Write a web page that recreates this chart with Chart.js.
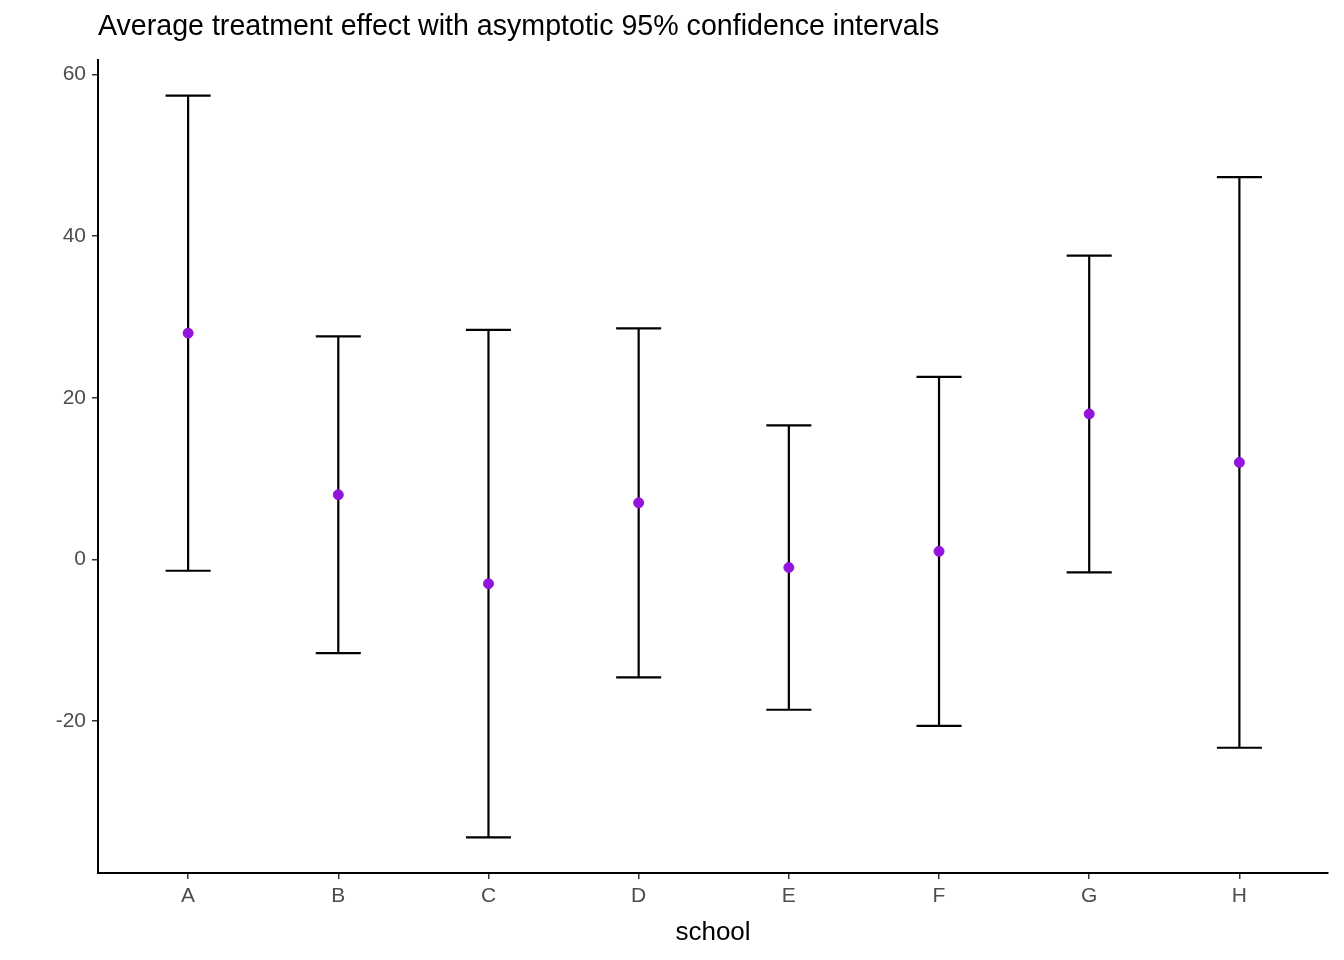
<!DOCTYPE html>
<html>
<head>
<meta charset="utf-8">
<script src="https://cdn.jsdelivr.net/npm/chart.js@4"></script>
<style>
  body { margin: 0; background: #fff; }
  #wrap { width: 1344px; height: 960px; }
</style>
</head>
<body>
<div id="wrap"><canvas id="c" width="1344" height="960"></canvas></div>
<script>
var schools = ['A', 'B', 'C', 'D', 'E', 'F', 'G', 'H'];
var estimates = [28, 8, -3, 7, -1, 1, 18, 12];
var lowerCI = [-1.4, -11.6, -34.4, -14.6, -18.6, -20.6, -1.6, -23.3];
var upperCI = [57.4, 27.6, 28.4, 28.6, 16.6, 22.6, 37.6, 47.3];
var yTicks = [-20, 0, 20, 40, 60];

var points = estimates.map(function(v, i) { return { x: i, y: v }; });

// draws the whiskers behind the points
var errorBars = {
  id: 'errorBars',
  beforeDatasetsDraw: function(chart) {
    var ctx = chart.ctx;
    var xs = chart.scales.x;
    var ys = chart.scales.y;
    ctx.save();
    ctx.strokeStyle = '#000';
    ctx.lineWidth = 2.2;
    schools.forEach(function(s, i) {
      var x = xs.getPixelForValue(i);
      var xl = xs.getPixelForValue(i - 0.15);
      var xr = xs.getPixelForValue(i + 0.15);
      var yl = ys.getPixelForValue(lowerCI[i]);
      var yu = ys.getPixelForValue(upperCI[i]);
      ctx.beginPath();
      ctx.moveTo(x, yl); ctx.lineTo(x, yu);
      ctx.moveTo(xl, yl); ctx.lineTo(xr, yl);
      ctx.moveTo(xl, yu); ctx.lineTo(xr, yu);
      ctx.stroke();
    });
    ctx.restore();
  },
  afterDraw: function(chart) {
    var ctx = chart.ctx;
    ctx.save();
    ctx.fillStyle = '#000';
    ctx.font = '28.6px "Liberation Sans", Arial, sans-serif';
    ctx.textBaseline = 'middle';
    ctx.textAlign = 'left';
    ctx.fillText('Average treatment effect with asymptotic 95% confidence intervals', 98, 27);
    ctx.restore();
  }
};

new Chart(document.getElementById('c'), {
  type: 'scatter',
  data: {
    datasets: [{
      data: points,
      backgroundColor: '#9314DC',
      borderColor: '#9314DC',
      pointRadius: 5,
      pointHoverRadius: 5
    }]
  },
  options: {
    responsive: false,
    animation: false,
    layout: { padding: { top: 60, right: 16, left: 0, bottom: 8 } },
    plugins: { legend: { display: false }, tooltip: { enabled: false } },
    scales: {
      x: {
        type: 'linear',
        min: -0.6,
        max: 7.59,
        afterBuildTicks: function(axis) {
          axis.ticks = schools.map(function(s, i) { return { value: i }; });
        },
        afterFit: function(axis) { axis.height = 79; },
        ticks: {
          callback: function(v) { return schools[v]; },
          color: '#4d4d4d',
          font: { size: 21, family: '"Liberation Sans", Arial, sans-serif' },
          padding: 5
        },
        grid: { drawOnChartArea: false, tickLength: 6, color: '#333', lineWidth: 1.5 },
        border: { color: '#000', width: 2 },
        title: {
          display: true,
          text: 'school',
          color: '#000',
          font: { size: 26, family: '"Liberation Sans", Arial, sans-serif' },
          padding: { top: 2 }
        }
      },
      y: {
        min: -38.8,
        max: 61.8,
        afterBuildTicks: function(axis) {
          axis.ticks = yTicks.map(function(v) { return { value: v }; });
        },
        afterFit: function(axis) { axis.width = 98; },
        ticks: {
          color: '#4d4d4d',
          font: { size: 21, family: '"Liberation Sans", Arial, sans-serif' },
          padding: 6
        },
        grid: { drawOnChartArea: false, tickLength: 6, color: '#333', lineWidth: 1.5 },
        border: { color: '#000', width: 2 }
      }
    }
  },
  plugins: [errorBars]
});
</script>
</body>
</html>
